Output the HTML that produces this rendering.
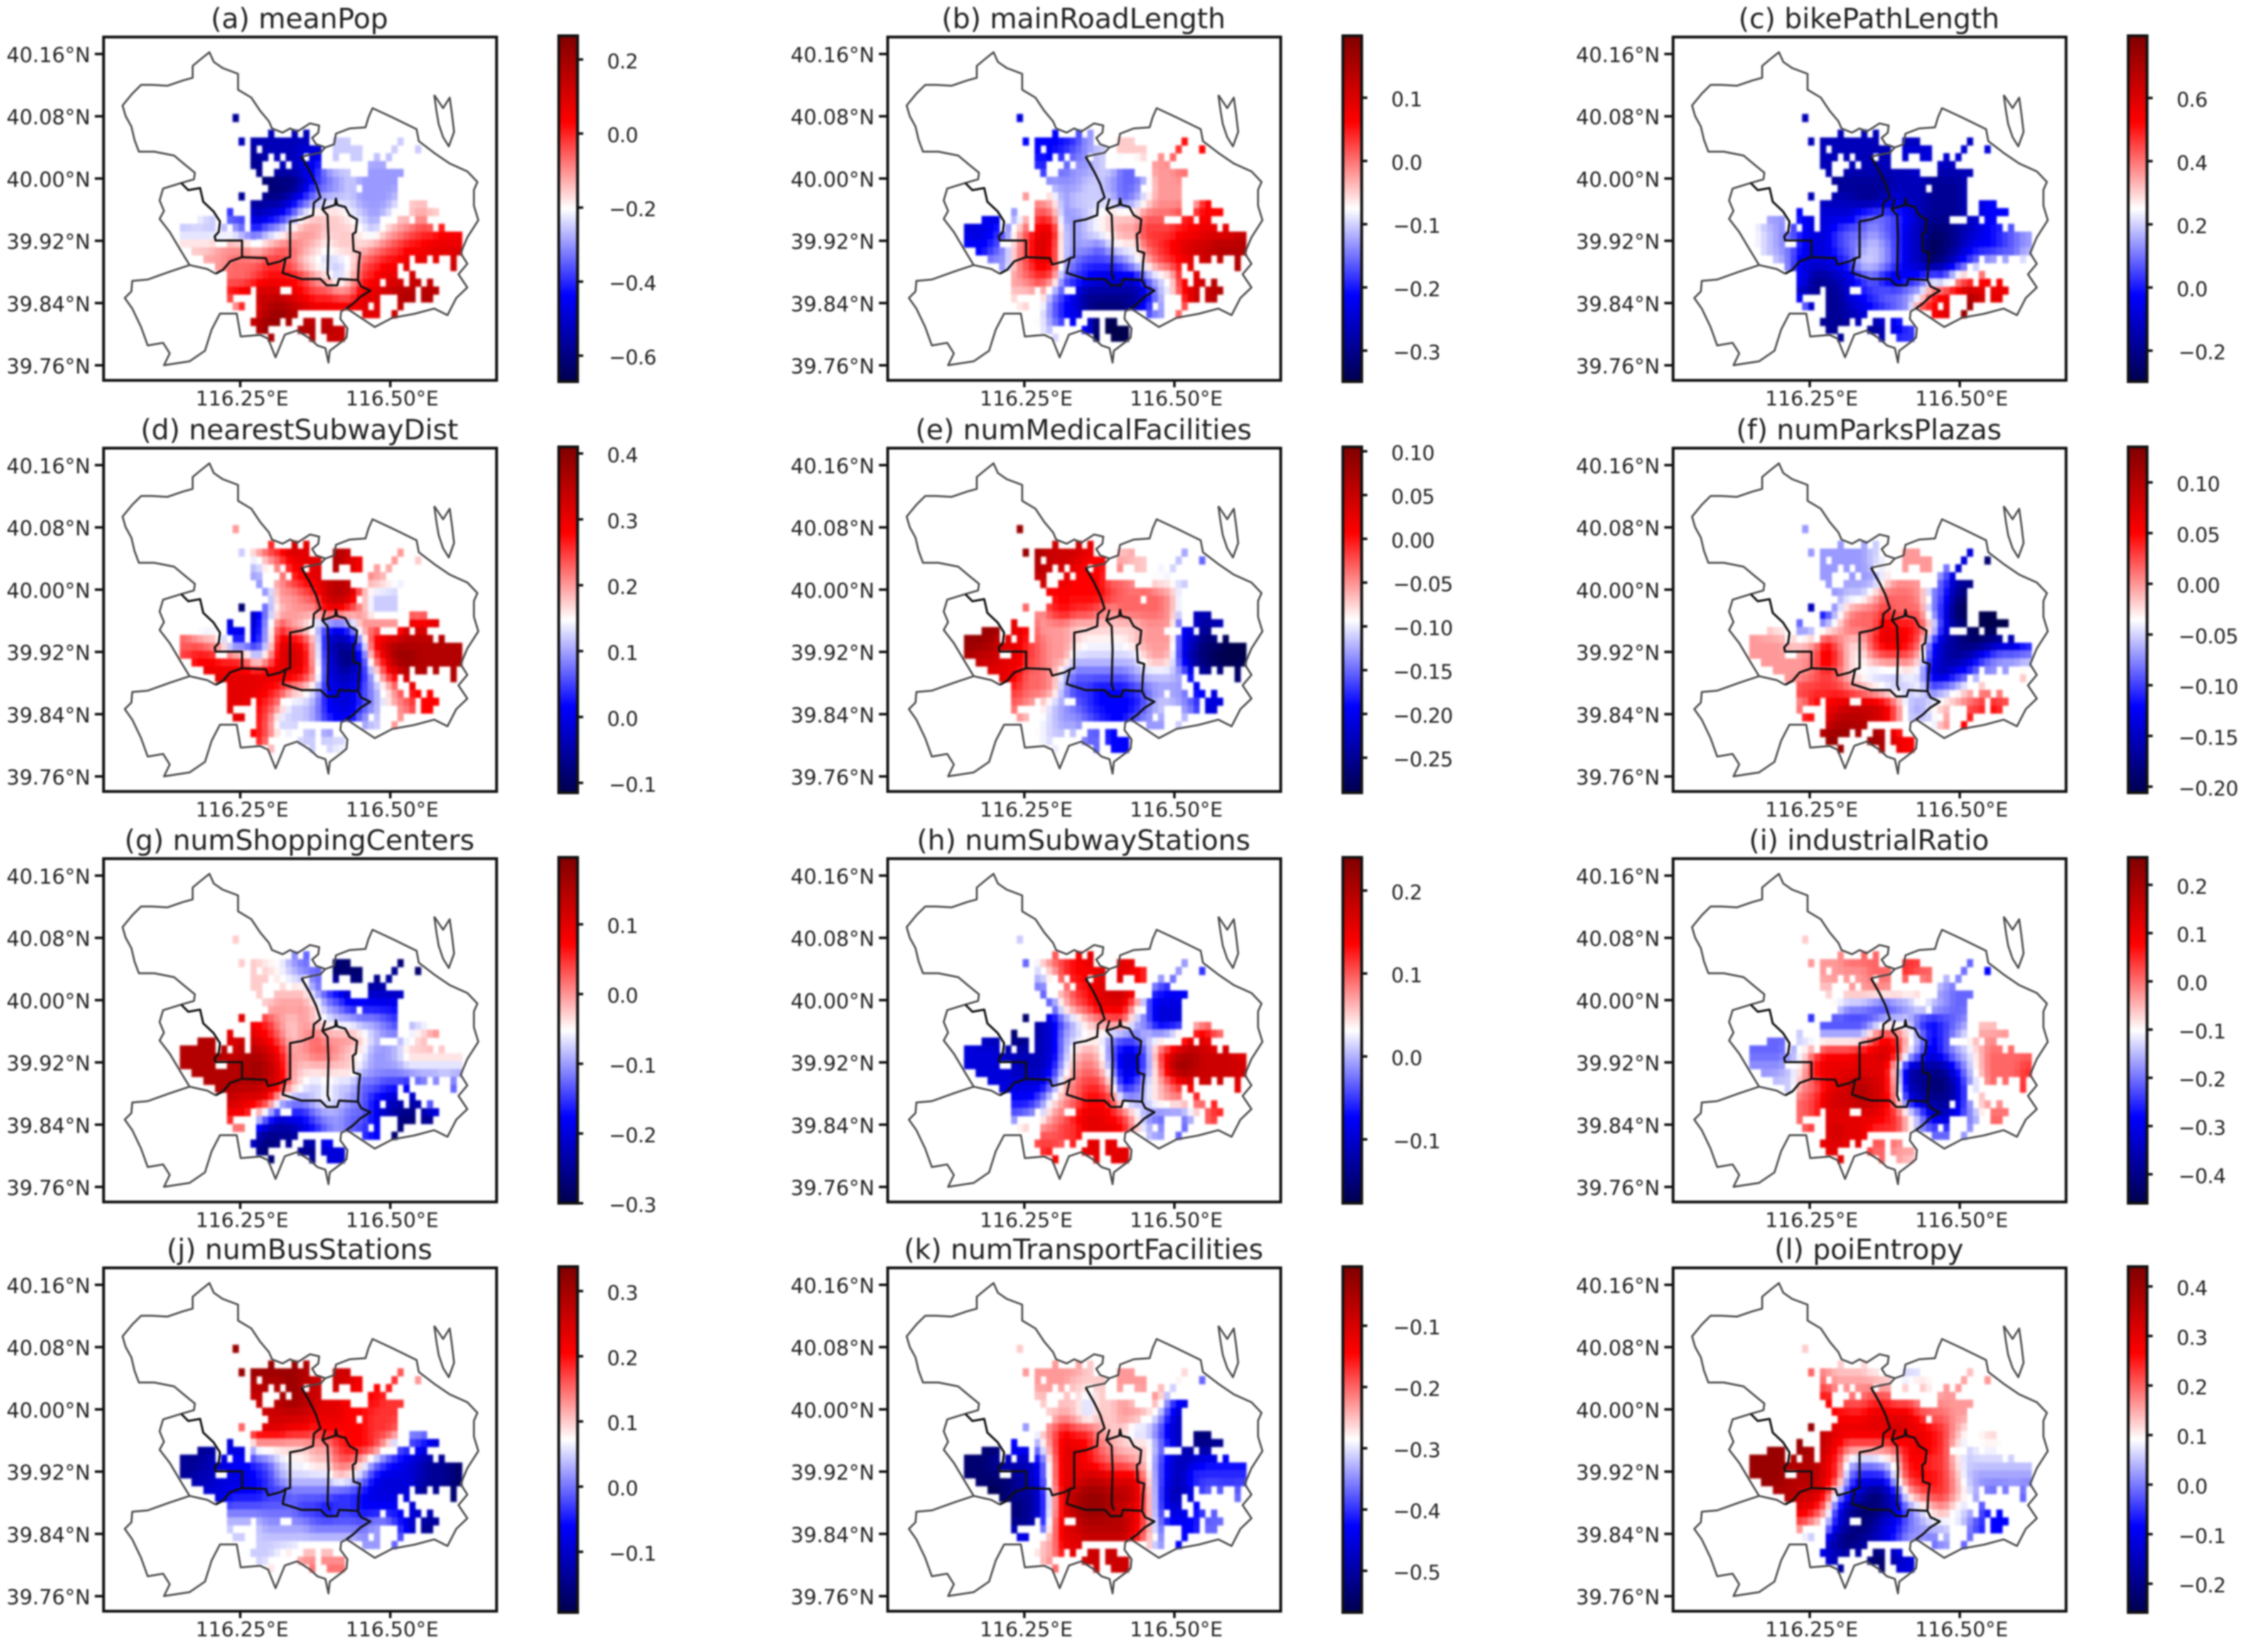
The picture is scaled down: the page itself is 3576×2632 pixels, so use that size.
<!DOCTYPE html>
<html lang="en">
<head>
<meta charset="utf-8">
<title>Spatial coefficient maps</title>
<style>
html,body{margin:0;padding:0;background:#fff;width:3576px;height:2632px;overflow:hidden}
#chart{display:block;width:3576px;height:2632px;filter:blur(1.3px)}
text{font-family:"DejaVu Sans","Liberation Sans",sans-serif;fill:#222}
</style>
</head>
<body>
<svg id="chart" xmlns="http://www.w3.org/2000/svg" width="3576" height="2632" viewBox="0 0 3576 2632">
<defs>
<linearGradient id="seismic" x1="0" y1="1" x2="0" y2="0">
<stop offset="0" stop-color="#00004d"/><stop offset=".25" stop-color="#0000ff"/><stop offset=".5" stop-color="#ffffff"/><stop offset=".75" stop-color="#ff0000"/><stop offset="1" stop-color="#800000"/>
</linearGradient>
<filter id="soft" x="-5%" y="-5%" width="110%" height="110%"><feGaussianBlur stdDeviation="1.2"/></filter>
</defs>
</svg>
<script>
// Panel titles
const panelTitles = ['(a) meanPop','(b) mainRoadLength','(c) bikePathLength','(d) nearestSubwayDist','(e) numMedicalFacilities','(f) numParksPlazas','(g) numShoppingCenters','(h) numSubwayStations','(i) industrialRatio','(j) numBusStations','(k) numTransportFacilities','(l) poiEntropy'];
// Axis ticks
const latTicks = [40.16,40.08,40.00,39.92,39.84,39.76];
const lonTicks = [116.25,116.50];
// Colorbar ranges and ticks
const colorMin = [-0.67,-0.349,-0.298,-0.115,-0.29,-0.206,-0.3,-0.177,-0.46,-0.193,-0.568,-0.258];
const colorMax = [0.264,0.198,0.797,0.41,0.105,0.135,0.196,0.24,0.257,0.3375,-0.0035,0.44];
const colorDecimals = [1,1,1,1,2,2,1,1,1,1,1,1];
const meanPopTicks = [0.2,0,-0.2,-0.4,-0.6];
const mainRoadTicks = [0.1,0,-0.1,-0.2,-0.3];
const bikePathTicks = [0.6,0.4,0.2,0,-0.2];
const subwayDistTicks = [0.4,0.3,0.2,0.1,0,-0.1];
const medicalTicks = [0.10,0.05,0,-0.05,-0.10,-0.15,-0.20,-0.25];
const parksTicks = [0.10,0.05,0,-0.05,-0.10,-0.15,-0.20];
const shoppingTicks = [0.1,0,-0.1,-0.2,-0.3];
const stationsTicks = [0.2,0.1,0,-0.1];
const industrialTicks = [0.2,0.1,0,-0.1,-0.2,-0.3,-0.4];
const busTicks = [0.3,0.2,0.1,0,-0.1];
const transportTicks = [-0.1,-0.2,-0.3,-0.4,-0.5];
const entropyTicks = [0.4,0.3,0.2,0.1,0,-0.1,-0.2];
// Data coverage: for each fine grid row, pairs of first/last covered column
const coverageRows = [[9,9],[],[15,15,19,19,21,21],[10,10,12,21,26,28,37,37],[12,12,14,23,26,30,36,36,40,40],[12,14,16,16,18,20,22,23,26,26,29,30,33,33,35,35],[12,13,17,17,19,23,32,34],[13,13,16,28,32,37],[14,36],[15,29,31,36],[10,10,14,36],[12,36,39,41],[8,8,12,36,39,43],[3,5,8,10,12,33,37,38,40,41],[0,5,7,7,9,10,12,42,44,44],[0,47],[0,5,8,47],[2,47],[4,38,40,41,43,43,46,46],[6,36,38,38,46,46],[8,36,39,39],[8,33,35,37,39,40,42,42],[8,11,13,16,19,39,41,43],[8,8,13,33,37,39,41,42],[9,10,13,31,33,33,37,37],[13,19,31,33,36,36],[12,16,18,18,21,22,24,25],[13,14,20,22,24,27],[15,15,22,22,25,27]];
// Estimated coefficient levels, -10 (colour-scale minimum) to 10 (maximum)
const meanPopLevels = [
[0,0,0,0,-8],
[0,0,0,0,0,-7,-7,-7,-7,-7,-7,-5,0,-1,-1,0,0,0,-1],
[0,0,0,0,0,0,-8,-7,-7,-7,-6,-6,0,-1,-1,-1,-1,-1,-1,0,-1],
[0,0,0,0,0,0,-8,-8,-7,-7,-6,-5,-2,-1,-1,-2,-2,-2,-2],
[0,0,0,0,0,0,0,-9,-9,-9,-7,-4,-3,-2,-1,-2,-2,-2,-2],
[0,0,0,0,0,-8,-8,-8,-8,-6,-4,-2,-1,-1,-1,-2,-2,-2,-1,1,1],
[0,0,-1,-1,-4,-4,-7,-6,-5,-3,0,1,1,1,0,-1,-2,-1,1,1,2,1],
[-1,-1,-1,-1,-1,-3,-4,-2,-1,1,2,2,1,1,1,0,-1,1,2,3,4,4,5,5],
[1,1,1,2,2,2,1,2,3,3,2,1,0,1,1,1,2,3,4,5,5,6,6,6],
[0,0,2,2,3,3,3,4,4,3,1,0,-1,-1,0,3,4,5,5,6,6,6,6,7],
[0,0,0,0,3,3,4,5,5,5,4,2,1,-1,1,4,5,6,6,7,7,7,7],
[0,0,0,0,5,6,7,7,7,6,5,4,4,3,3,6,6,7,8,8,8,8],
[0,0,0,0,0,5,6,8,9,8,7,6,6,6,6,6,6,6,7,8],
[0,0,0,0,0,0,8,9,9,8,8,8,8,7],
[0,0,0,0,0,0,0,8,8,0,8,8,7,7,7]];
const mainRoadLevels = [
[0,0,0,0,-6],
[0,0,0,0,0,-5,-5,-5,-5,-4,-2,-1,0,1,1,0,0,0,5],
[0,0,0,0,0,0,-5,-5,-4,-3,-2,-1,0,1,1,1,2,3,4,0,5],
[0,0,0,0,0,0,-4,-3,-3,-2,-2,-1,-1,-3,-3,0,2,2,3],
[0,0,0,0,0,0,0,-2,-2,-2,-1,-1,-2,-3,-3,-1,2,2,2],
[0,0,0,0,0,2,2,1,-2,-1,-1,-1,-1,-3,-2,0,2,2,2,0,5,5],
[-6,-5,-6,-5,-2,2,4,3,-2,-2,-1,0,1,1,1,3,3,3,4,5,5,5],
[-6,-6,-5,-3,1,4,6,6,-1,-2,-1,0,1,2,2,4,4,4,5,5,6,6,6,7],
[-5,-5,-4,-2,2,4,7,5,-1,-2,-2,-3,-1,0,0,3,4,5,6,7,7,8,8,8],
[0,0,-2,-2,2,4,6,5,-1,-3,-4,-4,-4,-3,-1,1,3,4,5,6,7,7,7,8],
[0,0,0,0,2,3,4,3,-3,-4,-5,-6,-6,-6,-6,-3,-1,0,5,6,7,8],
[0,0,0,0,1,1,2,-2,-4,-6,-8,-8,-8,-8,-8,-6,-2,0,4,7,7,8],
[0,0,0,0,0,1,0,-3,-5,-6,-8,-9,-9,-9,-7,-4,-2,0,3],
[0,0,0,0,0,0,0,-2,-4,-5,-5,-10,-10,-10],
[0,0,0,0,0,0,0,0,-6,0,0,-10,-10,-10]];
const bikePathLevels = [
[0,0,0,0,-7],
[0,0,0,0,0,-7,-7,-7,-7,-7,-7,-6,0,-7,-7,0,0,0,-7],
[0,0,0,0,0,0,-7,-7,-7,-7,-7,-7,-7,-6,-6,-6,-6,-6,-6,0,-6],
[0,0,0,0,0,0,-7,-7,-7,-7,-7,-7,-7,-7,-6,-7,-7,-7,-7],
[0,0,0,0,0,0,0,-8,-8,-8,-8,-8,-7,-7,-7,-8,-8,-8,-7],
[0,0,0,0,-7,-7,-7,-7,-7,-8,-8,-7,-6,-7,-7,-8,-8,-8,-7,-6,-5,-5],
[0,-2,-2,-3,-5,-6,-6,-6,-6,-4,-3,-3,-4,-5,-7,-8,-8,-8,-7,-6,-5,-5],
[0,-1,-2,-3,-5,-6,-6,-4,-3,-3,-2,-3,-4,-6,-7,-9,-9,-8,-7,-6,-5,-4,-3,-2],
[0,-1,-2,-3,-5,-6,-6,-4,-3,-2,-1,-2,-4,-6,-7,-10,-9,-8,-6,-5,-5,-4,-3,-2],
[0,0,-1,-3,-6,-6,-6,-5,-4,-1,-1,-2,-4,-6,-7,-9,-8,-6,-4,-2,-1,-1,1],
[0,0,0,0,-5,-8,-8,-7,-6,-4,-3,-5,-6,-5,-4,-2,-3,1,3,4,5,5],
[0,0,0,0,-7,-8,-8,-8,-6,-5,-4,-3,-3,-2,-1,4,5,6,8,7,6,6],
[0,0,0,0,0,-8,-8,-8,-7,-6,-5,-4,-3,-2,4,5,6,6,9],
[0,0,0,0,0,0,-8,-8,-8,-7,-8,-7,-6,-4],
[0,0,0,0,0,0,0,-8,-7,0,-7,-7,-4,-4]];
const subwayDistLevels = [
[0,0,0,0,2],
[0,0,0,0,0,-1,2,4,5,7,6,5,0,8,7,0,0,0,2],
[0,0,0,0,0,0,-1,1,3,5,6,6,0,8,6,5,2,2,2,0,1],
[0,0,0,0,0,0,-2,0,2,4,5,6,7,8,7,0,2,1,0],
[0,0,0,0,0,0,0,-2,2,2,3,4,7,8,7,2,-1,-1,-1],
[0,0,0,0,0,-9,-6,-2,1,2,2,2,5,5,3,2,-1,-1,-1,2,2,2],
[0,-1,-1,0,-6,-6,-6,-1,4,2,1,-1,-4,-5,-3,2,3,3,3,7,6,6],
[3,3,2,1,-4,-4,-5,-1,6,6,5,1,-6,-8,-7,-2,5,7,8,8,8,8,8,8],
[4,5,5,4,4,3,-1,2,6,7,6,1,-5,-8,-9,-5,3,6,9,9,8,8,8,8],
[0,0,6,6,6,6,6,6,6,6,5,2,-5,-7,-7,-5,-1,4,6,8,8,8,8,8],
[0,0,0,6,6,6,6,5,4,2,1,-1,-5,-6,-6,-4,-2,0,3,5,5,5],
[0,0,0,0,6,6,5,4,2,-1,-1,-2,-5,-6,-6,-4,-2,0,2,3,5,5],
[0,0,0,0,6,6,5,3,-1,-1,-1,-2,-4,-5,-5,-2,-1,0,2],
[0,0,0,0,0,0,5,3,0,0,-1,-1,-1,-1],
[0,0,0,0,0,0,0,1,1,0,-1,-1,-1]];
const medicalLevels = [
[0,0,0,0,9],
[0,0,0,0,0,9,8,7,7,7,6,5,0,1,2,0,0,0,-2],
[0,0,0,0,0,0,8,7,7,6,5,5,0,2,1,1,0,-1,-1,0,-3],
[0,0,0,0,0,0,7,6,6,5,5,5,3,3,2,1,0,0,-1],
[0,0,0,0,0,0,0,5,5,5,5,5,4,3,3,3,3,2,-1],
[0,0,0,0,0,3,2,4,5,4,4,3,2,3,3,3,3,2,-1,-7,-7,-6],
[0,9,9,0,6,5,2,2,2,1,1,1,1,1,1,2,2,2,-5,-6,-8,-7],
[9,9,8,6,6,4,3,2,2,1,0,0,0,0,1,2,2,2,-5,-7,-9,-9,-10,-10],
[8,7,7,6,6,4,3,2,2,-1,-1,-1,-1,-1,-1,1,2,1,-5,-8,-9,-10,-10,-10],
[0,0,6,6,5,3,3,2,-1,-3,-3,-3,-3,-3,-2,-1,-1,-1,-2,-6,-8,-8,-9,-9],
[0,0,0,5,4,3,3,2,-2,-4,-4,-5,-5,-5,-4,-3,-2,-2,-2,-5,-5,-6],
[0,0,0,0,3,2,1,-1,-2,-3,-4,-5,-5,-5,-5,-3,-1,-1,-2,-3,-6,-6],
[0,0,0,0,2,1,0,-1,-2,-2,-3,-4,-5,-5,-3,-2,-2,0,-1],
[0,0,0,0,0,0,0,-1,-1,-1,-3,-3,-5,-5],
[0,0,0,0,0,0,0,0,0,0,-3,-3,-5,-5]];
const parksLevels = [
[0,0,0,0,-2],
[0,0,0,0,0,-2,-2,-2,-2,-2,-1,0,0,2,2,0,0,0,-6],
[0,0,0,0,0,0,-2,-2,-2,-2,-1,0,0,2,2,2,-1,-6,-6,0,-9],
[0,0,0,0,0,0,-2,-1,-2,-2,-2,0,2,2,2,-1,-3,-7,-8],
[0,0,0,0,0,0,0,-2,-1,-1,1,3,3,3,2,-2,-4,-8,-9],
[0,0,0,0,0,-7,-5,-1,2,3,3,4,3,3,3,-2,-5,-9,-10,-10,-10,-10],
[0,1,0,0,-3,-2,-1,1,3,3,3,6,5,5,4,1,-5,-8,-9,-10,-10,-10,-9],
[2,2,2,1,1,2,5,3,1,1,4,6,6,5,3,-4,-7,-8,-9,-9,-8,-7,-7,-5],
[2,2,2,2,2,3,6,4,1,0,2,3,3,3,1,-5,-7,-8,-7,-5,-3,-2,-2,-2],
[0,0,2,2,2,3,4,3,1,0,-1,-1,-1,0,-1,-6,-7,-5,-4,-2,-2,-2,-1,1],
[0,0,0,3,4,4,4,4,3,2,1,0,-1,-1,0,-3,-2,-1,1,2,2,2],
[0,0,0,0,2,5,5,6,7,7,7,6,3,-1,-2,0,1,2,3,4,5,4],
[0,0,0,0,5,5,6,8,8,8,7,6,3,-1,-1,-1,2,0,5],
[0,0,0,0,0,0,9,9,9,8,9,8,6,5],
[0,0,0,0,0,0,0,9,0,0,8,8,6,5]];
const shoppingLevels = [
[0,0,0,0,1],
[0,0,0,0,0,1,1,0,0,-2,-3,-4,0,-9,-9,0,0,0,-9],
[0,0,0,0,0,0,1,1,0,-1,-2,-3,0,-9,-9,-9,-9,-8,-8,0,-9],
[0,0,0,0,0,0,1,0,1,1,1,-2,-4,-6,-7,-7,-7,-7,-7],
[0,0,0,0,0,0,0,1,2,2,2,1,-2,-3,-5,-5,-5,-5,-5],
[0,0,0,0,0,6,5,4,2,1,2,1,0,-1,-1,-2,-2,-3,-4,-2,-1,1],
[0,8,8,0,6,7,6,5,3,1,2,3,2,2,2,1,-1,-2,-2,0,1,2,0],
[8,8,8,8,7,8,8,7,5,2,2,3,3,2,1,0,-2,-2,-1,1,1,1,1,1],
[8,8,8,8,8,8,9,8,6,2,1,1,1,1,1,-1,-2,-2,-2,-1,-1,-1,-1,-1],
[0,0,8,8,8,8,8,7,6,2,0,-1,0,-1,-1,-3,-3,-4,-4,-5,-3,-3,0,-3],
[0,0,0,7,7,6,6,5,0,-2,-2,-1,0,-1,-2,-3,-5,-6,-7,-7,-7],
[0,0,0,0,5,5,1,-3,-6,-5,-5,-3,-2,-2,-3,-3,-5,-7,-8,-9,-8,-8],
[0,0,0,0,2,2,-6,-8,-8,-8,-6,-5,-3,-2,-3,-4,-5,0,-9],
[0,0,0,0,0,0,-8,-9,-8,-8,-8,-8,-6,-6],
[0,0,0,0,0,0,0,-9,0,0,-8,-8,-6,-6]];
const stationsLevels = [
[0,0,0,0,-1],
[0,0,0,0,0,-3,1,3,4,5,6,5,0,6,6,0,0,0,-2],
[0,0,0,0,0,0,-1,1,4,5,5,6,0,6,5,4,-1,-2,-2,0,-4],
[0,0,0,0,0,0,-3,-1,2,4,5,6,7,7,6,-3,-4,-5,-5],
[0,0,0,0,0,0,0,-3,1,3,4,6,6,6,2,-3,-6,-6,-6],
[0,0,0,0,0,-9,-7,-6,-3,-1,1,2,3,3,-1,-3,-6,-6,-6,0,2,2],
[0,-7,-7,0,-9,-8,-7,-6,-2,-1,0,0,-2,-3,-3,-1,-1,0,3,6,6,3,0],
[-6,-6,-6,-7,-7,-7,-7,-6,-2,1,2,1,-3,-6,-6,-3,3,6,8,8,7,7,7,6],
[-6,-6,-6,-6,-7,-7,-7,-5,-1,2,3,2,-2,-6,-6,-3,2,7,9,8,7,7,7,7],
[0,0,-6,-6,-6,-6,-6,-3,1,3,4,4,1,-5,-4,-1,1,3,5,6,7,7,6,6],
[0,0,0,-5,-5,-5,-3,0,2,3,5,5,4,-1,-2,-1,1,2,2,4,3,5],
[0,0,0,0,-3,-2,-1,2,3,5,6,6,5,4,1,-2,-3,-3,-3,-1,3,4],
[0,0,0,0,1,2,3,3,4,4,6,6,6,5,2,-1,-2,0,-3],
[0,0,0,0,0,0,4,4,3,5,6,6,6,6],
[0,0,0,0,0,0,0,6,0,0,6,6,6,6]];
const industrialLevels = [
[0,0,0,0,1],
[0,0,0,0,0,2,2,2,3,3,3,3,0,4,4,0,0,0,-3],
[0,0,0,0,0,0,2,2,2,2,3,3,0,4,3,3,-1,-2,-3,0,-5],
[0,0,0,0,0,0,1,1,2,2,2,2,2,1,1,-1,-2,-3,-3],
[0,0,0,0,0,0,0,0,-2,-2,-3,-4,-3,-2,0,-1,-2,-3,-3],
[0,0,0,0,0,-4,-4,-4,-4,-4,-3,-1,-1,-1,-4,-5,-4,-3,-2,1,1,1],
[0,-3,-3,0,-1,-1,-1,-1,-1,-1,3,5,4,1,-2,-5,-4,-2,0,2,2,2],
[-3,-3,-3,-2,0,3,5,5,5,6,6,7,5,0,-3,-6,-4,-2,-1,1,3,3,3,3],
[-2,-2,-2,-1,1,5,6,6,6,6,6,6,0,-7,-8,-8,-8,-5,-2,1,3,3,3,4],
[0,0,-1,-1,2,3,5,6,7,8,7,6,1,-7,-8,-9,-9,-7,-3,0,3,3,2,4],
[0,0,0,1,3,4,6,7,7,8,7,6,2,-5,-7,-8,-8,-7,-3,1,2,2],
[0,0,0,0,3,4,6,6,6,6,6,5,4,1,-2,-6,-7,-5,-3,-1,3,3],
[0,0,0,0,3,4,6,7,6,6,4,4,4,1,-2,-3,-3,0,-2],
[0,0,0,0,0,0,6,6,6,6,3,3,2,2],
[0,0,0,0,0,0,0,6,0,0,3,3,2,1]];
const busLevels = [
[0,0,0,0,9],
[0,0,0,0,0,9,9,9,9,9,8,8,0,7,7,0,0,0,3],
[0,0,0,0,0,0,8,8,8,9,8,7,0,7,6,5,5,5,4,0,2],
[0,0,0,0,0,0,7,7,8,9,8,7,6,6,5,5,5,4,4],
[0,0,0,0,0,0,0,7,7,7,7,6,6,6,5,5,4,4,4],
[0,0,0,0,0,3,6,6,6,5,5,4,5,5,5,5,4,4,3,-2,-2,-3],
[0,-8,-8,0,-6,-6,1,1,1,1,1,2,2,4,5,5,4,1,-3,-4,-5,-6],
[-8,-8,-7,-6,-5,-5,-4,-3,-1,0,0,1,1,3,3,1,-2,-4,-5,-6,-7,-8,-8,-9],
[-8,-7,-7,-6,-6,-6,-5,-4,-2,-1,-1,-1,-1,1,0,-2,-5,-6,-6,-6,-7,-8,-8,-9],
[0,0,-6,-6,-5,-5,-5,-4,-4,-3,-3,-3,-3,-4,-4,-5,-6,-6,-6,-6,-8,-8,0,-9],
[0,0,0,-3,-3,-3,-3,-3,-3,-3,-4,-4,-5,-4,-4,-5,-5,-5,-5,-6,-6,-7],
[0,0,0,0,-1,-1,-1,-2,-2,-2,-2,-3,-3,-3,-3,-3,-2,-2,-4,-6,-8,-8],
[0,0,0,0,-1,-1,-1,-1,-1,-1,-1,-1,-1,-1,-1,-2,-2,0,-3],
[0,0,0,0,0,0,-1,-1,0,1,2,2,2,2],
[0,0,0,0,0,0,0,1,0,0,3,3,3,3]];
const transportLevels = [
[0,0,0,0,1],
[0,0,0,0,0,2,2,2,2,2,1,1,0,2,2,0,0,0,1],
[0,0,0,0,0,0,2,2,2,1,1,1,0,2,2,2,2,0,0,0,-3],
[0,0,0,0,0,0,1,1,1,1,-1,1,1,2,1,0,2,-3,-5],
[0,0,0,0,0,0,0,1,2,1,-1,1,1,2,2,1,-1,-5,-7],
[0,0,0,0,0,-2,1,3,5,4,4,2,1,1,-1,-1,-3,-6,-7,-9,-9,-8],
[0,-9,-9,0,-5,-5,-1,3,6,6,5,3,2,1,1,1,-2,-5,-7,-8,-8,-8],
[-9,-9,-8,-7,-7,-7,-5,2,6,6,5,4,3,3,2,1,-3,-6,-7,-6,-5,-5,-5,-5],
[-9,-9,-9,-9,-8,-7,-5,2,6,6,7,7,6,6,6,2,-3,-6,-7,-4,-4,-4,-4,-4],
[0,0,-10,-9,-8,-8,-6,1,6,8,9,9,8,8,7,3,-3,-7,-7,-6,-3,-3,0,-3],
[0,0,0,-10,-9,-8,-6,1,6,8,9,9,8,7,6,3,-3,-6,-6,-5,-4,-3],
[0,0,0,0,-8,-8,-6,2,6,7,8,8,8,8,6,3,-2,-5,-5,-5,-3,-3],
[0,0,0,0,-5,-5,1,2,6,6,7,7,7,7,5,2,-2,0,-5],
[0,0,0,0,0,0,1,2,5,6,7,7,7,7],
[0,0,0,0,0,0,0,3,0,0,7,7,7,7]];
const entropyLevels = [
[0,0,0,0,1],
[0,0,0,0,0,3,2,1,1,1,0,0,0,-1,-1,0,0,0,1],
[0,0,0,0,0,0,3,2,2,2,2,1,0,0,1,0,2,2,2,0,2],
[0,0,0,0,0,0,5,3,3,3,4,4,3,3,2,2,2,2,2],
[0,0,0,0,0,0,0,5,5,5,6,6,6,6,4,3,3,2,2],
[0,0,0,0,0,9,7,6,6,6,6,6,7,6,6,5,4,2,0,0,1,1],
[0,9,9,0,9,8,7,5,3,3,3,3,4,5,6,5,4,1,-1,0,0,0],
[9,9,9,8,8,8,6,4,-1,-2,-2,-1,1,5,5,4,4,1,-1,-1,-1,-1,-1,-1],
[9,9,9,8,8,8,6,4,-3,-5,-5,-5,0,4,5,5,4,2,-1,-2,-2,-2,-2,-2],
[0,0,8,8,7,7,5,-1,-5,-7,-9,-8,-5,1,3,4,4,2,0,-2,-3,-3,0,-3],
[0,0,0,7,6,5,2,-5,-8,-9,-9,-8,-6,-3,-1,1,2,0,-1,-3,-5,-5],
[0,0,0,0,3,1,-1,-6,-8,-9,-8,-6,-5,-3,-2,-1,-1,0,-2,-4,-5,-5],
[0,0,0,0,-1,-2,-6,-8,-9,-8,-7,-6,-4,-2,-2,-3,-2,0,-3],
[0,0,0,0,0,0,-6,-7,-7,-7,-9,-9,-7,-6],
[0,0,0,0,0,0,0,-8,0,0,-9,-9,-6,-6]];
const panelLevels = [meanPopLevels,mainRoadLevels,bikePathLevels,subwayDistLevels,medicalLevels,parksLevels,shoppingLevels,stationsLevels,industrialLevels,busLevels,transportLevels,entropyLevels];
const panelTicks = [meanPopTicks,mainRoadTicks,bikePathTicks,subwayDistTicks,medicalTicks,parksTicks,shoppingTicks,stationsTicks,industrialTicks,busTicks,transportTicks,entropyTicks];
// District boundaries, in sketch units
const outerBoundaries = [
[411,694,440,680,442,655,420,625,395,590,350,575,315,575,305,530,298,480,285,440,278,400,300,355,320,322,345,322,380,325,415,305,437,295,437,250,455,225,475,198,485,235,505,258,540,280,540,340,570,370,590,420,610,460,617,487,641,503,658,487,674,499,703,468,724,476,722,503,708,523,717,547,738,559,727,579,703,587,684,594],
[738,559,758,547,762,507,793,487,829,483,836,444,845,410,890,445,945,490,950,535,985,580,1020,620,1060,650,1083,690,1075,720,1075,780,1085,835,1060,900,1045,960,1060,1000,1040,1040,1060,1090,1035,1130,1015,1195,985,1170,940,1190,890,1205,850,1240,786,1169],
[786,1169,774,1181,772,1209,788,1245,786,1280,772,1300,748,1330,745,1375,738,1320,720,1310,703,1284,674,1253,646,1269,625,1355,608,1284,590,1270,546,1276,537,1189,499,1189,480,1250,465,1330,430,1370,372,1385,385,1340,370,1300,335,1310,320,1240,300,1170,283,1130,298,1105,300,1065,335,1060,385,1030,430,1005,470,1020,489,1038],
[411,694,370,715,362,760,372,800,362,830,385,880,410,950,430,1005],
[985,360,990,420,995,470,1005,520,1018,555,1030,500,1025,430,1020,370,1005,410,985,360]];
const innerBoundaries = [
[684,594,703,650,717,698,727,749,712,769,710,816,684,832,658,840,658,975,648,979,636,991,608,1003,603,979,549,975,522,991,506,1023,489,1038],
[411,694,427,721,454,713,461,765,484,801,499,840,496,880,487,896,489,912,549,912,549,975],
[648,979,641,1035,684,1058,727,1058,741,1082,765,1082,769,1058,812,1062],
[738,753,731,793,743,816,745,904,743,1038,748,1060],
[731,793,760,777,762,753,765,777,783,785,793,816,810,832,807,880,800,888,802,951,817,959,814,999,812,1062,819,1086,840,1102,817,1126,802,1150,786,1169]];

// Layout
const panelLefts = [165,1414,2665];
const panelTops = [59,714,1368,2020];
const panelWidth = 626;
const panelHeight = 547;
const lonAtLeft = 116.0223;
const latAtTop = 40.1818;
const gridLon0 = 116.1493;
const gridLat0 = 40.0829;
const gridDLon = 0.0098;
const gridDLat = 0.01008;
function xOfLon(lon){return (lon-lonAtLeft)*956;}
function yOfLat(lat){return (latAtTop-lat)*1240;}
function seismic(t){
  t=Math.max(0,Math.min(1,t));
  let r,g,b;
  if(t<0.25){r=0;g=0;b=0.3+0.7*t/0.25;}
  else if(t<0.5){const k=(t-0.25)/0.25;r=k;g=k;b=1;}
  else if(t<0.75){const k=(t-0.5)/0.25;r=1;g=1-k;b=1-k;}
  else{r=1-0.5*(t-0.75)/0.25;g=0;b=0;}
  return 'rgb('+Math.round(r*255)+','+Math.round(g*255)+','+Math.round(b*255)+')';
}
// Which coarse level cells have any covered fine cell
const coarseCovered = {};
coverageRows.forEach(function(pairs,r){
  for(let i=0;i<pairs.length;i+=2){
    for(let c=pairs[i];c<=pairs[i+1];c++){coarseCovered[Math.floor(r/2)+'_'+Math.floor(c/2)]=true;}
  }
});
// Smooth display of a level grid, like imshow with bilinear display
function displayLevel(levels,r,c){
  const u=(c+0.5)/2-0.5, v=(r+0.5)/2-0.5;
  const iu=Math.floor(u), iv=Math.floor(v), fu=u-iu, fv=v-iv;
  let sum=0, wt=0;
  [[iv,iu,(1-fv)*(1-fu)],[iv,iu+1,(1-fv)*fu],[iv+1,iu,fv*(1-fu)],[iv+1,iu+1,fv*fu]].forEach(function(n){
    if(!coarseCovered[n[0]+'_'+n[1]])return;
    const row=levels[n[0]]||[];
    sum+=(row[n[1]]||0)*n[2];
    wt+=n[2];
  });
  return wt>0?sum/wt:0;
}
const svgNS='http://www.w3.org/2000/svg';
const root=document.getElementById('chart');
function make(tag,attrs,parent,txt){
  const e=document.createElementNS(svgNS,tag);
  for(const k in attrs)e.setAttribute(k,attrs[k]);
  if(txt!==undefined)e.textContent=txt;
  (parent||root).appendChild(e);
  return e;
}
function mapPoints(list){
  const out=[];
  for(let i=0;i<list.length;i+=2){out.push((list[i]/1.424-165).toFixed(1)+','+(list[i+1]/2.38-59).toFixed(1));}
  return out.join(' ');
}
panelTitles.forEach(function(title,p){
  const L=panelLefts[p%3], T=panelTops[Math.floor(p/3)];
  const g=make('g',{transform:'translate('+L+','+T+')'});
  
  

  const t=make('text',{x:panelWidth/2-1,y:-14,'text-anchor':'middle','font-size':44.4},g,title);
  
  

  // heatmap
  const heat=make('g',{filter:'url(#soft)','shape-rendering':'crispEdges'},g);
  
  
  const levels=panelLevels[p];
  coverageRows.forEach(function(pairs,r){
    for(let i=0;i<pairs.length;i+=2){
      for(let c=pairs[i];c<=pairs[i+1];c++){
        const lv=displayLevel(levels,r,c);
        if(Math.abs(lv)<0.05)continue;
        const x0=xOfLon(gridLon0+c*gridDLon), x1=xOfLon(gridLon0+(c+1)*gridDLon);
        const y0=yOfLat(gridLat0-r*gridDLat), y1=yOfLat(gridLat0-(r+1)*gridDLat);
        const cell=make('rect',{x:x0.toFixed(1),y:y0.toFixed(1),width:(x1-x0+0.6).toFixed(1),height:(y1-y0+0.6).toFixed(1),fill:seismic(0.5+lv/20)},heat);
        
        
      }
    }
  });

  // boundaries
  outerBoundaries.forEach(function(b){
    const l=make('polyline',{points:mapPoints(b),fill:'none',stroke:'#4a4a4a','stroke-width':3,'stroke-linejoin':'round'},g);
    
    
  });
  innerBoundaries.forEach(function(b){
    const l=make('polyline',{points:mapPoints(b),fill:'none',stroke:'#111','stroke-width':3.4,'stroke-linejoin':'round'},g);
    
    
  });

  // axes frame
  const frame=make('rect',{x:0,y:0,width:panelWidth,height:panelHeight,fill:'none',stroke:'#111','stroke-width':4.5},g);
  
  

  latTicks.forEach(function(lat){
    const y=yOfLat(lat);
    const tk=make('line',{x1:-14,x2:0,y1:y,y2:y,stroke:'#111','stroke-width':4},g);
    
    
    const lb=make('text',{x:-21,y:y+13,'text-anchor':'end','font-size':32.5},g,lat.toFixed(2)+'°N');
    
    
  });
  lonTicks.forEach(function(lon){
    const x=xOfLon(lon);
    const tk=make('line',{x1:x,x2:x,y1:panelHeight,y2:panelHeight+11,stroke:'#111','stroke-width':4},g);
    
    
    const lb=make('text',{x:x+3,y:panelHeight+40,'text-anchor':'middle','font-size':32},g,lon.toFixed(2)+'°E');
    
    
  });

  // colorbar
  const barX=725, barW=30, barTop=-2, barH=551;
  const bar=make('rect',{x:barX,y:barTop,width:barW,height:barH,fill:'url(#seismic)',stroke:'#111','stroke-width':4.5},g);
  
  
  const vmin=colorMin[p], vmax=colorMax[p];
  panelTicks[p].forEach(function(v){
    const y=barTop+(vmax-v)/(vmax-vmin)*barH;
    const tk=make('line',{x1:barX+barW,x2:barX+barW+9,y1:y,y2:y,stroke:'#111','stroke-width':4},g);
    
    
    const lb=make('text',{x:barX+barW+(v<0?50:47),y:y+14,'font-size':32,'letter-spacing':'-0.6'},g,v.toFixed(colorDecimals[p]).replace('-','\u2212'));
    
    
  });
});
</script>
</body>
</html>
